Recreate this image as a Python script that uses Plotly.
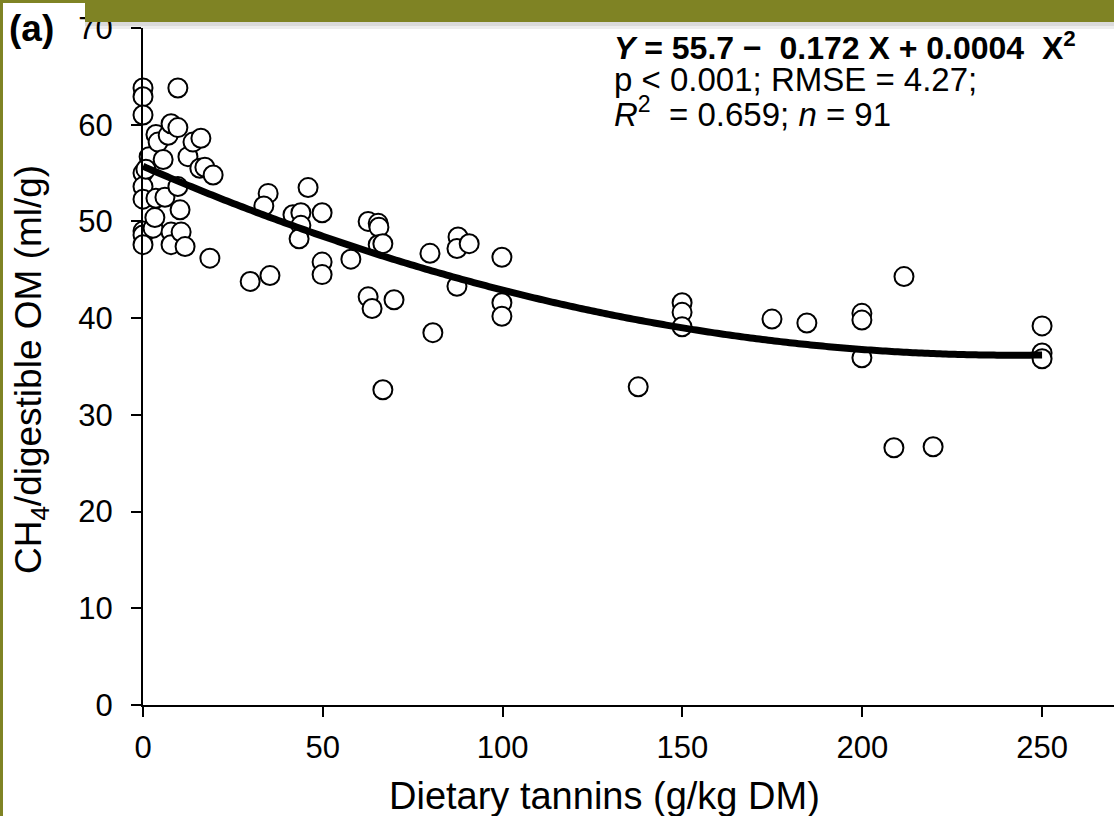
import numpy as np
import plotly.graph_objects as go

# ---- data ----
tannin_x = [
    0, 0, 0, 0, 0, 0, 0, 0, 0,
    1.7, 2.8, 3.3, 3.6, 3.6, 0.8,
    4.2, 5.6, 6.1, 7.0, 7.8, 7.8, 7.8,
    9.7, 9.7, 9.7, 10.3, 10.6, 11.7,
    12.5, 13.9, 16.1, 15.8, 17.2, 19.5, 18.6,
    34.8, 33.6, 45.9, 41.7, 43.9, 43.9, 43.4, 49.8, 49.8, 49.8,
    29.8, 35.3, 57.8, 62.6, 65.4, 65.6, 65.4, 66.7, 62.6, 63.7,
    69.8, 66.7, 79.8, 80.6, 87.6, 87.3, 90.7, 87.3, 99.8, 99.8, 99.8,
    149.9, 149.9, 149.9, 137.7, 174.9, 184.6, 199.9, 199.9, 199.9,
    211.6, 208.8, 219.7,
    250, 250, 250,
]
ch4_y = [
    63.8, 62.9, 61.0, 55.0, 53.6, 52.3, 49.0, 48.6, 47.6,
    56.7, 49.3, 50.4, 52.4, 59.0, 55.4,
    58.2, 56.4, 52.5, 58.9, 60.1, 48.9, 47.6,
    63.8, 59.7, 53.6, 51.2, 48.9, 47.4,
    56.7, 58.2, 58.6, 55.5, 55.6, 54.8, 46.2,
    52.9, 51.6, 53.5, 50.7, 50.9, 49.6, 48.2, 50.9, 45.8, 44.5,
    43.8, 44.4, 46.1, 50.0, 49.8, 49.4, 47.6, 47.7, 42.2, 41.0,
    41.9, 32.6, 46.7, 38.5, 48.4, 47.2, 47.7, 43.3, 46.3, 41.6, 40.2,
    41.6, 40.6, 39.1, 32.9, 39.9, 39.5, 40.5, 39.8, 35.9,
    44.3, 26.6, 26.7,
    39.2, 36.4, 35.8,
]
fit_coef = [55.7, -0.1613, 0.000333]   # quadratic fit as drawn
fit_range = [0, 250]

x_ticks = [0, 50, 100, 150, 200, 250]
y_ticks = [0, 10, 20, 30, 40, 50, 60, 70]

eq_line1 = "<b><i>Y</i> = 55.7 \u2212\u00a0 0.172 X + 0.0004\u00a0 X<sup>2</sup></b>"
eq_line2 = "p &lt; 0.001; RMSE = 4.27;"
eq_line3 = "<i>R</i><sup>2</sup>\u00a0 = 0.659; <i>n</i> = 91"

FONT = "Liberation Sans, Arial, Helvetica, sans-serif"
OLIVE = "#7f8324"

xf = np.linspace(fit_range[0], fit_range[1], 300)
yf = fit_coef[0] + fit_coef[1] * xf + fit_coef[2] * xf ** 2

fig = go.Figure()
fig.add_trace(go.Scatter(
    x=tannin_x, y=ch4_y, mode="markers",
    marker=dict(symbol="circle", size=19, color="white",
                line=dict(color="black", width=2)),
    showlegend=False, cliponaxis=False,
))
fig.add_trace(go.Scatter(
    x=xf, y=yf, mode="lines",
    line=dict(color="black", width=7, simplify=False),
    showlegend=False, cliponaxis=False,
))

L, T, B = 143, 28, 111
W, H = 1114, 816
pw, ph = W - L, H - T - B


def px(xp):
    return (xp - L) / pw


def py(yp):
    return (H - B - yp) / ph


fig.update_layout(
    width=W, height=H, autosize=False,
    margin=dict(l=L, r=0, t=T, b=B, pad=0),
    paper_bgcolor="white", plot_bgcolor="white",
    font=dict(family=FONT, size=31, color="black"),
    xaxis=dict(range=[0, 270], tickvals=x_ticks, ticks="outside", ticklen=10,
               tickwidth=1.5, tickcolor="black", showline=True, linecolor="black",
               linewidth=2, showgrid=False, zeroline=False,
               tickfont=dict(size=31), ticklabelstandoff=4),
    yaxis=dict(range=[0, 70], tickvals=y_ticks, ticks="outside", ticklen=10,
               tickwidth=1.5, tickcolor="black", showline=True, linecolor="black",
               linewidth=2, showgrid=False, zeroline=False,
               tickfont=dict(size=31), ticklabelstandoff=12),
)

annos = [
    dict(text="Dietary tannins (g/kg DM)", x=px(604), y=py(796), font=dict(size=38),
         xanchor="center", yanchor="middle"),
    dict(text="CH<sub>4</sub>/digestible OM (ml/g)", x=px(31), y=py(370), font=dict(size=37),
         textangle=-90, xanchor="center", yanchor="middle"),
    dict(text="<b>(a)</b>", x=px(7), y=py(29), font=dict(size=37),
         xanchor="left", yanchor="middle"),
    dict(text=eq_line1, x=px(612), y=py(46), font=dict(size=32),
         xanchor="left", yanchor="middle"),
    dict(text=eq_line2, x=px(612), y=py(79), font=dict(size=33),
         xanchor="left", yanchor="middle"),
    dict(text=eq_line3, x=px(612), y=py(112), font=dict(size=33),
         xanchor="left", yanchor="middle"),
]
for a in annos:
    fig.add_annotation(xref="paper", yref="paper", showarrow=False, **a)

# page frame: olive top bar, thin olive border lines, soft shadow
shapes = [
    dict(x0=px(85), x1=px(W), y0=py(29), y1=py(22), fillcolor="rgba(0,0,0,0.07)"),
    dict(x0=px(85), x1=px(W), y0=py(26), y1=py(22), fillcolor="rgba(0,0,0,0.08)"),
    dict(x0=px(85), x1=px(W), y0=py(22), y1=py(0), fillcolor=OLIVE),
    dict(x0=px(0), x1=px(85), y0=py(3), y1=py(0), fillcolor=OLIVE),
    dict(x0=px(0), x1=px(3), y0=py(H), y1=py(0), fillcolor=OLIVE),
]
for s in shapes:
    fig.add_shape(type="rect", xref="paper", yref="paper", line=dict(width=0),
                  layer="above", **s)

fig.write_html("out.html")
